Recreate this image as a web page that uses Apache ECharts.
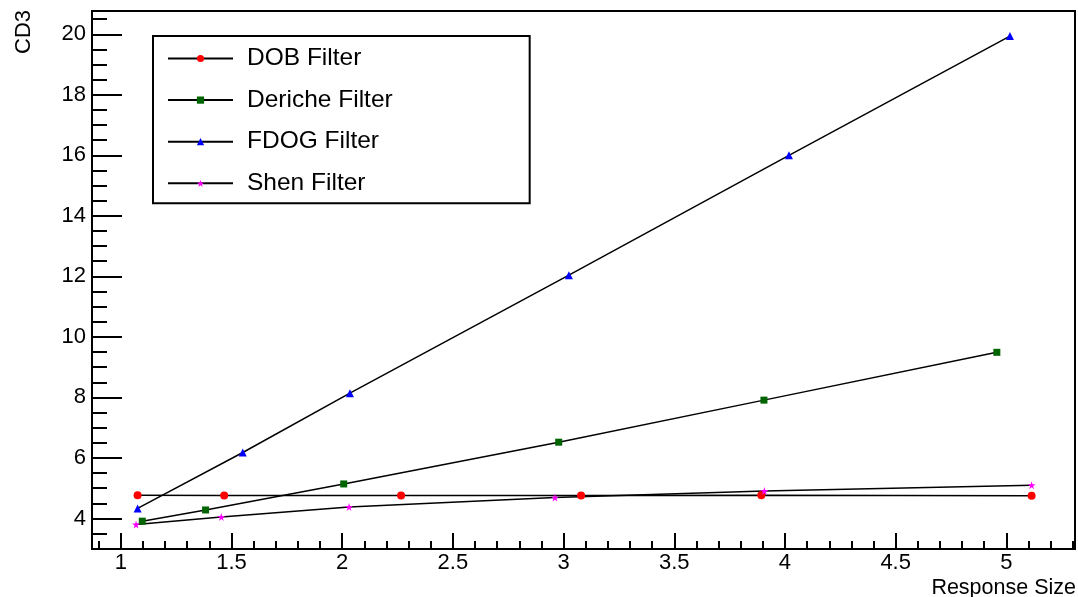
<!DOCTYPE html>
<html>
<head>
<meta charset="utf-8">
<script src="https://cdn.jsdelivr.net/npm/echarts@6/dist/echarts.min.js"></script>
<style>
  html, body { margin: 0; padding: 0; background: #fff; }
  #chart { width: 1078px; height: 597px; }
</style>
</head>
<body>
<div id="chart"></div>
<script>
// Filter response measurements: CD3 against response size
const seriesNames = ['DOB Filter', 'Deriche Filter', 'FDOG Filter', 'Shen Filter'];

const dobX = [1.076, 1.467, 2.266, 3.079, 3.893, 5.114];
const dobY = [4.77, 4.76, 4.76, 4.76, 4.77, 4.75];

const dericheX = [1.097, 1.383, 2.007, 2.978, 3.905, 4.957];
const dericheY = [3.91, 4.28, 5.14, 6.52, 7.91, 9.49];

const fdogX = [1.076, 1.551, 2.035, 3.024, 4.018, 5.016];
const fdogY = [4.33, 6.18, 8.14, 12.04, 16.0, 19.94];

const shenX = [1.069, 1.454, 2.031, 2.961, 3.907, 5.114];
const shenY = [3.80, 4.05, 4.38, 4.69, 4.91, 5.10];

// Axis ranges and tick labels
const xRange = [0.87, 5.31];
const yRange = [2.99, 20.77];
const xTickLabels = [1, 1.5, 2, 2.5, 3, 3.5, 4, 4.5, 5];
const yTickLabels = [4, 6, 8, 10, 12, 14, 16, 18, 20];

// Minor tick positions (every 0.1 on x, every 0.5 on y), skipping the major ones
function minorTicks(from, to, step, majors) {
  const out = [];
  const n = Math.round((to - from) / step);
  for (let i = 0; i <= n; i++) {
    const v = Math.round((from + i * step) * 1000) / 1000;
    if (!majors.some(m => Math.abs(m - v) < 1e-6)) out.push(v);
  }
  return out;
}
const xMinor = minorTicks(0.9, 5.3, 0.1, xTickLabels);
const yMinor = minorTicks(3.0, 20.5, 0.5, yTickLabels);

const pairs = (xs, ys) => xs.map((x, i) => [x, ys[i]]);

const FONT = '"Liberation Sans", Arial, sans-serif';
const STAR = 'path://M50,0 L61,35 L98,35 L68,57 L79,91 L50,70 L21,91 L32,57 L2,35 L39,35 Z';

const chart = echarts.init(document.getElementById('chart'), null, { renderer: 'canvas' });

const lineStyle = { color: '#000', width: 1.5 };

const option = {
  backgroundColor: '#fff',
  animation: false,
  grid: {
    left: 92, right: 3, top: 11, bottom: 48,
    show: true, borderColor: '#000', borderWidth: 2, backgroundColor: 'transparent'
  },
  legend: {
    orient: 'vertical',
    left: 153, top: 36,
    padding: [8.5, 137, 6, 14],
    borderColor: '#000', borderWidth: 2,
    itemWidth: 65, itemHeight: 9,
    itemGap: 13.6,
    lineStyle: { width: 2 },
    textStyle: { fontFamily: FONT, fontSize: 24.5, color: '#000', lineHeight: 28,
                 padding: [0, 0, 0, 9] },
    data: seriesNames
  },
  xAxis: [
    {
      type: 'value', min: xRange[0], max: xRange[1],
      axisLine: { show: true, lineStyle: { color: '#000', width: 2 } },
      splitLine: { show: false },
      axisTick: { show: true, inside: true, length: 16, customValues: xTickLabels,
                  lineStyle: { color: '#000', width: 2 } },
      axisLabel: { show: true, customValues: xTickLabels, margin: 3,
                   fontFamily: FONT, fontSize: 22, color: '#000' }
    },
    {
      type: 'value', min: xRange[0], max: xRange[1], position: 'bottom',
      axisLine: { show: false },
      splitLine: { show: false },
      axisTick: { show: true, inside: true, length: 8, customValues: xMinor,
                  lineStyle: { color: '#000', width: 2 } },
      axisLabel: { show: false }
    }
  ],
  yAxis: [
    {
      type: 'value', min: yRange[0], max: yRange[1],
      axisLine: { show: true, lineStyle: { color: '#000', width: 2 } },
      splitLine: { show: false },
      axisTick: { show: true, inside: true, length: 30, customValues: yTickLabels,
                  lineStyle: { color: '#000', width: 2 } },
      axisLabel: { show: true, customValues: yTickLabels, margin: 6,
                   fontFamily: FONT, fontSize: 22, color: '#000' }
    },
    {
      type: 'value', min: yRange[0], max: yRange[1], position: 'left',
      axisLine: { show: false },
      splitLine: { show: false },
      axisTick: { show: true, inside: true, length: 15, customValues: yMinor,
                  lineStyle: { color: '#000', width: 2 } },
      axisLabel: { show: false }
    }
  ],
  graphic: [
    {
      type: 'text', x: 24, y: 10, rotation: Math.PI / 2,
      style: { text: 'CD3', fontFamily: FONT, fontSize: 22, fill: '#000',
               align: 'right', verticalAlign: 'middle' }
    },
    {
      type: 'text', x: 1076, y: 588,
      style: { text: 'Response Size', fontFamily: FONT, fontSize: 21.5, fill: '#000',
               align: 'right', verticalAlign: 'middle' }
    }
  ],
  series: [
    {
      name: seriesNames[0], type: 'line', data: pairs(dobX, dobY),
      symbol: 'circle', symbolSize: 8, showAllSymbol: true,
      lineStyle: lineStyle, itemStyle: { color: '#ff0000' }
    },
    {
      name: seriesNames[1], type: 'line', data: pairs(dericheX, dericheY),
      symbol: 'rect', symbolSize: 7, showAllSymbol: true,
      lineStyle: lineStyle, itemStyle: { color: '#006400' }
    },
    {
      name: seriesNames[2], type: 'line', data: pairs(fdogX, fdogY),
      symbol: 'triangle', symbolSize: 8, showAllSymbol: true,
      lineStyle: lineStyle, itemStyle: { color: '#0000ff' }
    },
    {
      name: seriesNames[3], type: 'line', data: pairs(shenX, shenY),
      symbol: STAR, symbolSize: 8, showAllSymbol: true,
      lineStyle: lineStyle, itemStyle: { color: '#ff00ff' }
    }
  ]
};

chart.setOption(option);
</script>
</body>
</html>
